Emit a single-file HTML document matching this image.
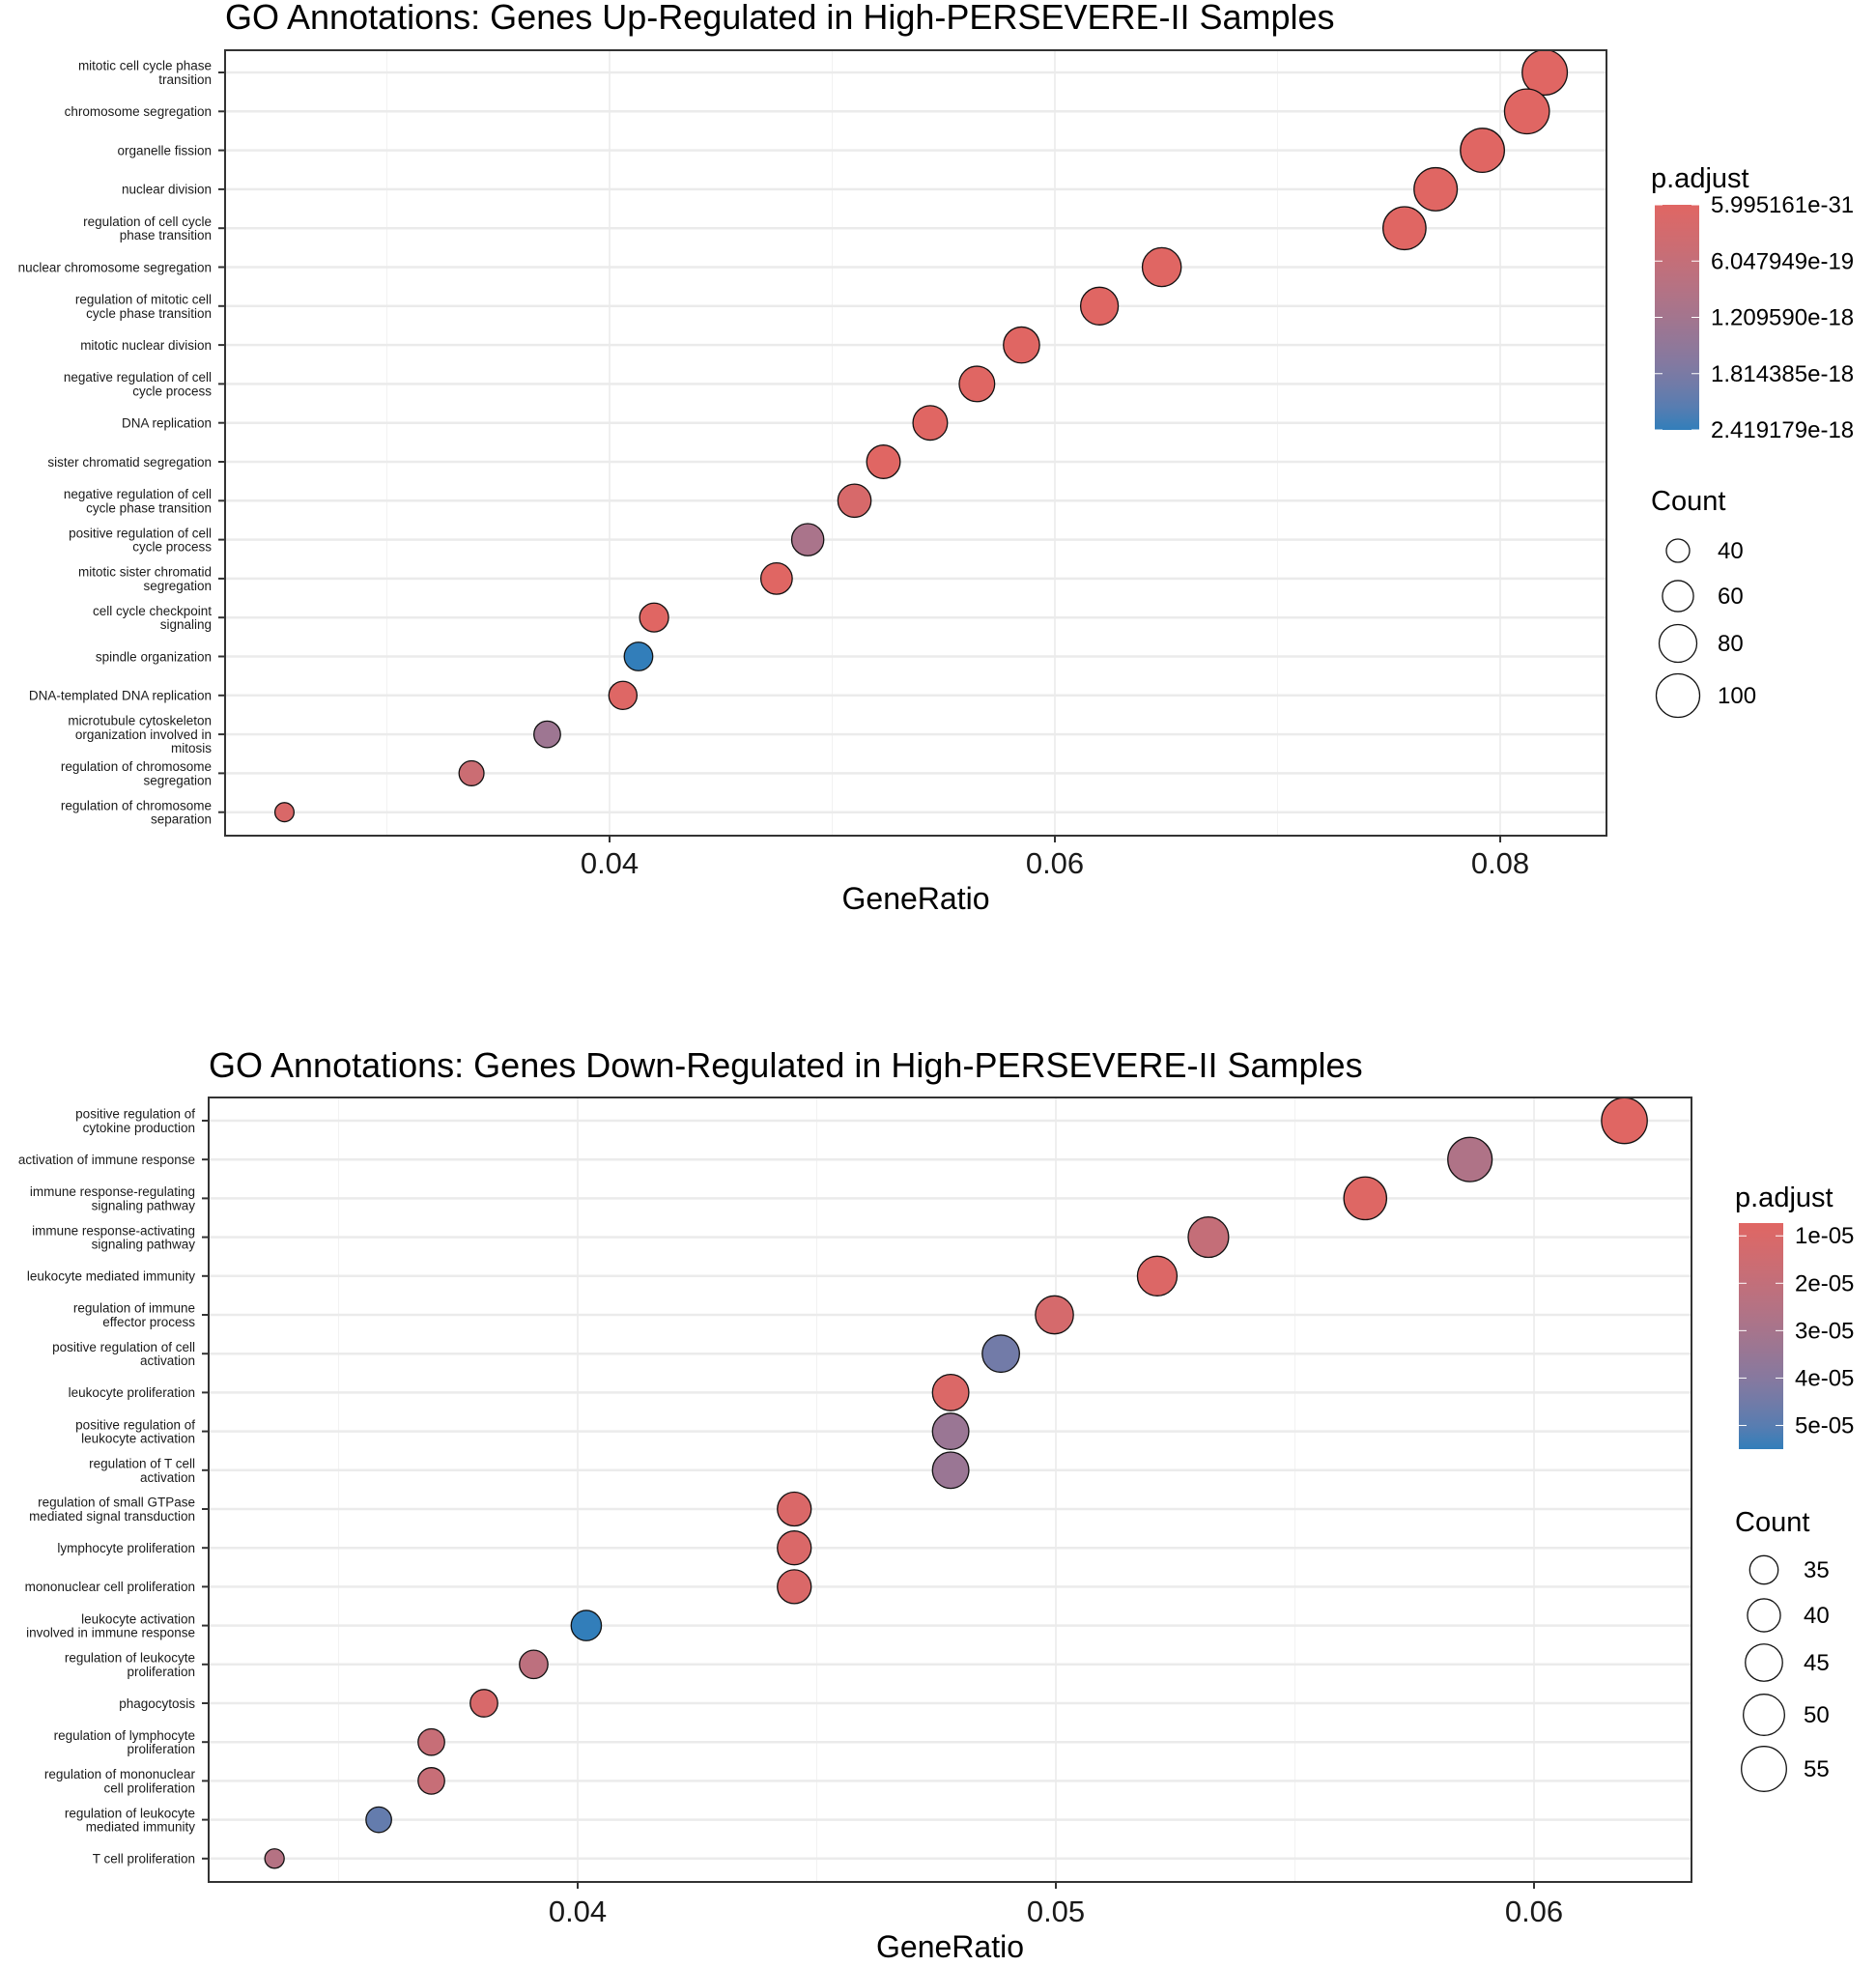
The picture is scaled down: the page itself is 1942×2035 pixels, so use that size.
<!DOCTYPE html>
<html><head><meta charset="utf-8"><style>
html,body{margin:0;padding:0;background:#fff;}
svg{display:block;font-family:"Liberation Sans",Arial,sans-serif;}
</style></head><body>
<svg id="svg" width="1942" height="2035" viewBox="0 0 1942 2035" xmlns="http://www.w3.org/2000/svg"></svg>
<script>
// ---------- Chart 1 data (Up-regulated) ----------
const upTerms = ["mitotic cell cycle phase\ntransition","chromosome segregation","organelle fission","nuclear division","regulation of cell cycle\nphase transition","nuclear chromosome segregation","regulation of mitotic cell\ncycle phase transition","mitotic nuclear division","negative regulation of cell\ncycle process","DNA replication","sister chromatid segregation","negative regulation of cell\ncycle phase transition","positive regulation of cell\ncycle process","mitotic sister chromatid\nsegregation","cell cycle checkpoint\nsignaling","spindle organization","DNA-templated DNA replication","microtubule cytoskeleton\norganization involved in\nmitosis","regulation of chromosome\nsegregation","regulation of chromosome\nseparation"];
const upRatio = [0.0820,0.0812,0.0792,0.0771,0.0757,0.0648,0.0620,0.0585,0.0565,0.0544,0.0523,0.0510,0.0489,0.0475,0.0420,0.0413,0.0406,0.0372,0.0338,0.0254];
const upCount = [106,105,102,99,98,84,80,75,73,70,67,66,63,61,54,53,52,48,44,31];
const upPadj = [5.995161e-31,1e-30,1e-29,1e-28,1e-27,1e-26,1e-25,1e-24,1e-23,1e-22,1e-21,2e-19,1.1e-18,1e-20,1e-21,2.419179e-18,5e-20,1.3e-18,4.5e-19,1.5e-19];
const upXTicks = [0.04,0.06,0.08];
const upXMinor = [0.03,0.05,0.07];
const upCbLabels = ["5.995161e-31","6.047949e-19","1.209590e-18","1.814385e-18","2.419179e-18"];
const upCbValues = [5.995161e-31,6.047949e-19,1.209590e-18,1.814385e-18,2.419179e-18];
const upSizeBreaks = [40,60,80,100];

// ---------- Chart 2 data (Down-regulated) ----------
const dnTerms = ["positive regulation of\ncytokine production","activation of immune response","immune response-regulating\nsignaling pathway","immune response-activating\nsignaling pathway","leukocyte mediated immunity","regulation of immune\neffector process","positive regulation of cell\nactivation","leukocyte proliferation","positive regulation of\nleukocyte activation","regulation of T cell\nactivation","regulation of small GTPase\nmediated signal transduction","lymphocyte proliferation","mononuclear cell proliferation","leukocyte activation\ninvolved in immune response","regulation of leukocyte\nproliferation","phagocytosis","regulation of lymphocyte\nproliferation","regulation of mononuclear\ncell proliferation","regulation of leukocyte\nmediated immunity","T cell proliferation"];
const dnRatio = [0.06189,0.05866,0.05647,0.05319,0.05212,0.04997,0.04885,0.0478,0.0478,0.0478,0.04453,0.04453,0.04453,0.04018,0.03908,0.03804,0.03694,0.03694,0.03584,0.03366];
const dnCount = [56,54,52,49,48,46,45,44,44,44,41,41,41,37,35,34,33,33,32,26];
const dnPadj = [7.3e-6,2.7e-5,8e-6,1.9e-5,9e-6,1.2e-5,4.5e-5,9.5e-6,3.4e-5,3.4e-5,1e-5,1e-5,1e-5,5.5e-5,2.2e-5,1.1e-5,1.8e-5,1.8e-5,4.8e-5,2.5e-5];
const dnXTicks = [0.04,0.05,0.06];
const dnXMinor = [0.035,0.045,0.055];
const dnCbLabels = ["1e-05","2e-05","3e-05","4e-05","5e-05"];
const dnCbValues = [1e-5,2e-5,3e-5,4e-5,5e-5];
const dnSizeBreaks = [35,40,45,50,55];

const NS="http://www.w3.org/2000/svg";
const svg=document.getElementById('svg');
function mk(tag,attrs,parent){const e=document.createElementNS(NS,tag);for(const k in attrs)e.setAttribute(k,attrs[k]);(parent||svg).appendChild(e);return e;}
// Lab interpolation
function s2l(c){c/=255;return c<=0.04045?c/12.92:Math.pow((c+0.055)/1.055,2.4);}
function l2s(c){c=c<=0.0031308?12.92*c:1.055*Math.pow(c,1/2.4)-0.055;return Math.round(Math.max(0,Math.min(1,c))*255);}
function toLab(rgb){const [r,g,b]=rgb.map(s2l);
  let X=(0.4124*r+0.3576*g+0.1805*b)/0.95047,Y=0.2126*r+0.7152*g+0.0722*b,Z=(0.0193*r+0.1192*g+0.9505*b)/1.08883;
  const f=t=>t>0.008856?Math.cbrt(t):7.787*t+16/116;X=f(X);Y=f(Y);Z=f(Z);
  return [116*Y-16,500*(X-Y),200*(Y-Z)];}
function fromLab(L){let Y=(L[0]+16)/116,X=L[1]/500+Y,Z=Y-L[2]/200;
  const fi=t=>t*t*t>0.008856?t*t*t:(t-16/116)/7.787;X=fi(X)*0.95047;Y=fi(Y);Z=fi(Z)*1.08883;
  const r=3.2406*X-1.5372*Y-0.4986*Z,g=-0.9689*X+1.8758*Y+0.0415*Z,b=0.0557*X-0.2040*Y+1.0570*Z;
  return [l2s(r),l2s(g),l2s(b)];}
const RED=toLab([224,102,99]), BLUE=toLab([50,126,186]);
function colorAt(t){t=Math.max(0,Math.min(1,t));const c=fromLab(RED.map((v,i)=>v+(BLUE[i]-v)*t));return `rgb(${c[0]},${c[1]},${c[2]})`;}

function drawChart(cfg){
  const g=mk('g',{});
  
  
  const {L,R,T,B,x0,xPer,dx,row0,rowStep}=cfg;
  const xs=v=>x0+(v-cfg.xRef)/dx*xPer;
  const ys=i=>row0+i*rowStep;
  const rs=c=>cfg.rA+cfg.rB*Math.sqrt(c);
  const t=mk('text',{x:cfg.titleX,y:cfg.titleY,'font-size':36,fill:'#000'},g);t.textContent=cfg.title;
  
  mk('rect',{x:L,y:T,width:R-L,height:B-T,fill:'#fff'},g);
  cfg.minor.forEach(v=>{const l=mk('line',{x1:xs(v),x2:xs(v),y1:T,y2:B,stroke:'#f2f2f2','stroke-width':1},g);
    });
  cfg.ticks.forEach(v=>{const l=mk('line',{x1:xs(v),x2:xs(v),y1:T,y2:B,stroke:'#ebebeb','stroke-width':1.6},g);
    });
  cfg.terms.forEach((_,i)=>{const l=mk('line',{x1:L,x2:R,y1:ys(i),y2:ys(i),stroke:'#ebebeb','stroke-width':2.5},g);
    });
  cfg.terms.forEach((term,i)=>{
    const lines=term.split('\n');const y=ys(i);
    const tk=mk('line',{x1:L-7,x2:L,y1:y,y2:y,stroke:'#333','stroke-width':2},g);
    
    const tx=mk('text',{x:L-14,'font-size':13.5,fill:'#1a1a1a','text-anchor':'end'},g);
    
    const lh=14.3, start=y-(lines.length-1)*lh/2+4.8;
    lines.forEach((ln,k)=>{const s=mk('tspan',{x:L-14,y:start+k*lh},tx);s.textContent=ln;});
  });
  cfg.ticks.forEach(v=>{
    const tk=mk('line',{x1:xs(v),x2:xs(v),y1:B,y2:B+7,stroke:'#333','stroke-width':2},g);
    
    const tx=mk('text',{x:xs(v),y:cfg.tickLabelY,'font-size':31,fill:'#1a1a1a','text-anchor':'middle'},g);
    tx.textContent=v.toFixed(2);
    
  });
  const xt=mk('text',{x:(L+R)/2,y:cfg.axisTitleY,'font-size':32,fill:'#000','text-anchor':'middle'},g);
  xt.textContent='GeneRatio';
  const pmin=Math.min(...cfg.padj),pmax=Math.max(...cfg.padj);
  cfg.ratio.forEach((v,i)=>{
    const c=mk('circle',{cx:xs(v),cy:ys(i),r:rs(cfg.count[i]),fill:colorAt((cfg.padj[i]-pmin)/(pmax-pmin)),stroke:'#111','stroke-width':1.3},g);
    
  });
  mk('rect',{x:L,y:T,width:R-L,height:B-T,fill:'none',stroke:'#333','stroke-width':2},g);
  const lg=cfg.leg;
  const lt=mk('text',{x:lg.x,y:lg.titleY,'font-size':29,fill:'#000'},g);lt.textContent='p.adjust';
  
  const gid='grad'+cfg.name;
  const defs=mk('defs',{},g);const gr=mk('linearGradient',{id:gid,x1:0,y1:0,x2:0,y2:1},defs);
  for(let k=0;k<=10;k++)mk('stop',{offset:k/10,'stop-color':colorAt(k/10)},gr);
  const bar=mk('rect',{x:lg.x+4,y:lg.barT,width:46,height:lg.barB-lg.barT,fill:`url(#${gid})`},g);
  
  const cy=v=>lg.barT+(v-pmin)/(pmax-pmin)*(lg.barB-lg.barT);
  cfg.cbValues.forEach((v,i)=>{
    const y=cy(v);
    mk('line',{x1:lg.x+4,x2:lg.x+12,y1:y,y2:y,stroke:'#fff','stroke-width':1},g);
    mk('line',{x1:lg.x+42,x2:lg.x+50,y1:y,y2:y,stroke:'#fff','stroke-width':1},g);
    const tx=mk('text',{x:lg.x+62,y:y+8,'font-size':24,fill:'#000'},g);tx.textContent=cfg.cbLabels[i];
    
  });
  const ct=mk('text',{x:lg.x,y:lg.countTitleY,'font-size':29,fill:'#000'},g);ct.textContent='Count';
  
  cfg.sizeBreaks.forEach((c,i)=>{
    const y=lg.sizeY[i];
    const ci=mk('circle',{cx:lg.circX,cy:y,r:rs(c),fill:'#fff',stroke:'#111','stroke-width':1.3},g);
    
    const tx=mk('text',{x:lg.circX+41,y:y+8,'font-size':24,fill:'#000'},g);tx.textContent=c;
    
  });
}

drawChart({name:'up-regulated-chart',title:'GO Annotations: Genes Up-Regulated in High-PERSEVERE-II Samples',
  titleX:233,titleY:30,L:233,R:1663,T:52,B:865,xRef:0.04,x0:631,xPer:461,dx:0.02,row0:75,rowStep:40.3,
  tickLabelY:904,axisTitleY:941,terms:upTerms,ratio:upRatio,count:upCount,padj:upPadj,ticks:upXTicks,minor:upXMinor,
  rA:-6.0,rB:2.85,cbLabels:upCbLabels,cbValues:upCbValues,sizeBreaks:upSizeBreaks,
  leg:{x:1709,titleY:194,barT:212,barB:445,countTitleY:528,circX:1737,sizeY:[570,617,666,720]}});

drawChart({name:'down-regulated-chart',title:'GO Annotations: Genes Down-Regulated in High-PERSEVERE-II Samples',
  titleX:216,titleY:1115,L:216,R:1751,T:1136,B:1948,xRef:0.04,x0:598,xPer:495,dx:0.01,row0:1160,rowStep:40.2,
  tickLabelY:1989,axisTitleY:2026,terms:dnTerms,ratio:dnRatio,count:dnCount,padj:dnPadj,ticks:dnXTicks,minor:dnXMinor,
  rA:-19.2,rB:5.73,cbLabels:dnCbLabels,cbValues:dnCbValues,sizeBreaks:dnSizeBreaks,
  leg:{x:1796,titleY:1249,barT:1266,barB:1500,countTitleY:1585,circX:1826,sizeY:[1625,1672,1721,1775,1831]}});
</script>
</body></html>
